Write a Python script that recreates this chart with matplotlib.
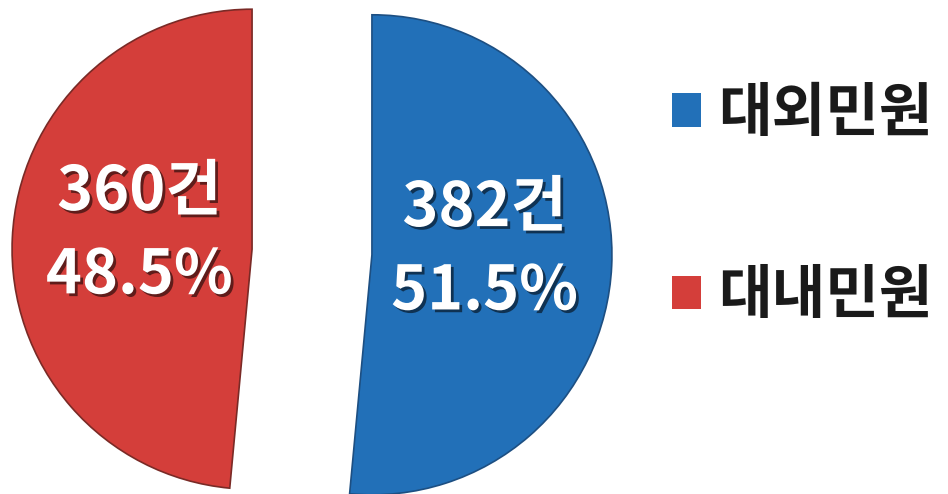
import matplotlib
matplotlib.use("Agg")
import matplotlib.pyplot as plt
import matplotlib.patheffects as pe

plt.rcParams['font.family'] = ['Noto Sans CJK KR', 'DejaVu Sans']

# === Données ===
categories = ["대외민원", "대내민원"]
counts = [382, 360]
colors = ["#2270B8", "#D43E3A"]
total = sum(counts)

# === Figure ===
fig = plt.figure(figsize=(9.48, 4.94), dpi=100)
ax = fig.add_axes([0, 0, 1, 1])
ax.set_xlim(0, 948)
ax.set_ylim(0, 494)
ax.set_aspect("equal")


def etiquette(pct):
    n = round(pct * total / 100)
    return f"{n}건\n{pct:.1f}%"


# explode en unités de données (pas relatif au rayon)
wedges, texts, autotexts = ax.pie(
    counts,
    colors=colors,
    startangle=90,
    counterclock=False,
    radius=240,
    center=(312, 242),
    explode=[60, 60],
    autopct=etiquette,
    pctdistance=0.47,
    wedgeprops=dict(edgecolor="#7a2a26", linewidth=1.2),
    frame=True,
)
ax.axis("off")
wedges[0].set_edgecolor("#1d4f82")

ombre = [pe.SimplePatchShadow(offset=(2, -2), shadow_rgbFace="black", alpha=0.55), pe.Normal()]
for t in autotexts:
    t.set_color("white")
    t.set_fontsize(44)
    t.set_fontweight("bold")
    t.set_linespacing(1.45)
    t.set_path_effects(ombre)
    x, y = t.get_position()
    t.set_position((x, y + 10))

leg = ax.legend(
    wedges, categories,
    loc="center left",
    bbox_to_anchor=(0.678, 0.585),
    bbox_transform=fig.transFigure,
    frameon=False,
    borderpad=0,
    handlelength=0.5,
    handleheight=0.5,
    handletextpad=0.3,
    labelspacing=2.1,
    prop=dict(size=42, weight="heavy"),
)
for h in leg.legend_handles:
    h.set_edgecolor("none")
for t in leg.get_texts():
    t.set_color("#1a1a1a")

fig.savefig("out.png", dpi=100)
